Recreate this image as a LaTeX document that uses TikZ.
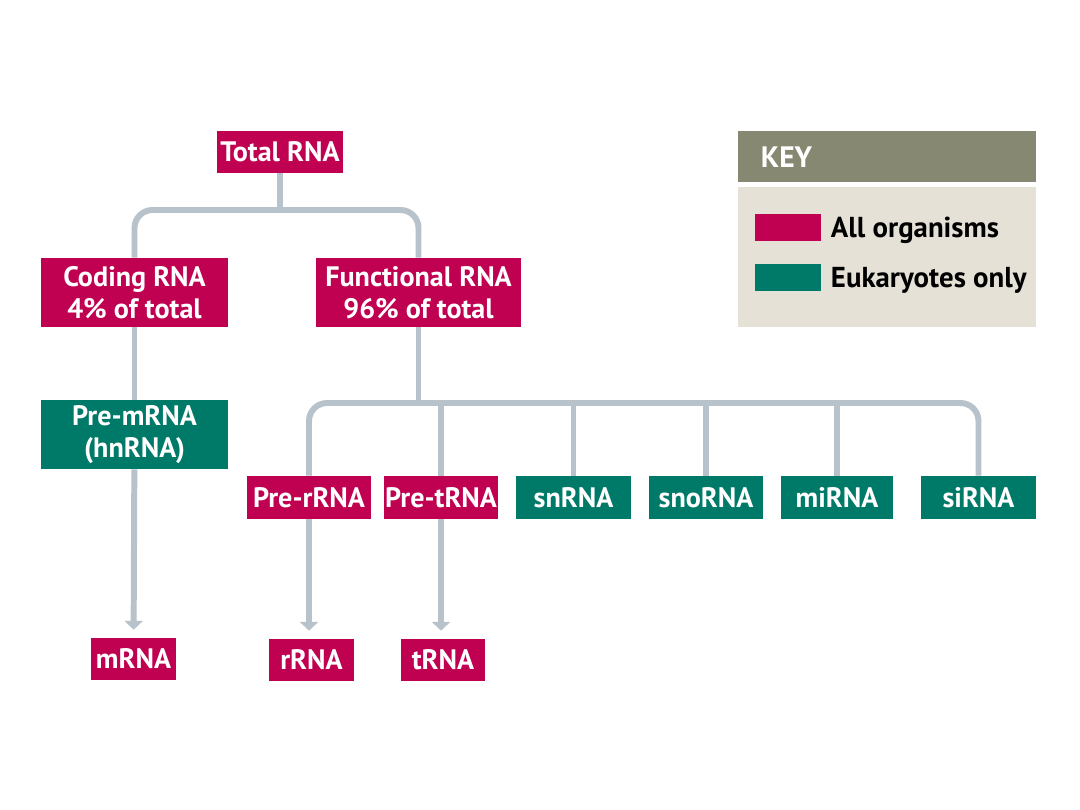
\documentclass[tikz,border=0pt]{standalone}
\usepackage{fontspec}
\setsansfont{PT Sans}
\usetikzlibrary{arrows.meta}
\definecolor{allorg}{RGB}{192,0,80}
\definecolor{eukonly}{RGB}{0,122,104}
\definecolor{linkgray}{RGB}{183,194,202}
\definecolor{keyhead}{RGB}{135,136,113}
\definecolor{keybody}{RGB}{229,225,214}

\begin{document}
\begin{tikzpicture}[x=0.025cm, y=-0.025cm,
  rna/.style={inner sep=0pt, text=white, align=center,
    font=\sffamily\bfseries\fontsize{20}{23}\selectfont},
  pink/.style={rna, fill=allorg},
  green/.style={rna, fill=eukonly},
  link/.style={draw=linkgray, line width=4.25pt},
  arr/.style={link, -{Triangle[width=0.45cm,length=0.22cm]}, shorten >=0.2cm}]
\useasboundingbox (0,0) rectangle (1080,810);
% tree
\node[pink, minimum width=3.15cm, minimum height=1.05cm] (total) at (280,152) {Total RNA};
\node[pink, minimum width=4.675cm, minimum height=1.725cm] (coding) at (134.5,292.5) {Coding RNA\\4\% of total};
\node[pink, minimum width=5.125cm, minimum height=1.725cm] (functional) at (418.5,292.5) {Functional RNA\\96\% of total};
\node[green, minimum width=4.675cm, minimum height=1.725cm] (premrna) at (134.5,434.5) {Pre-mRNA\\(hnRNA)};
\node[pink, minimum width=3.1cm, minimum height=1.075cm] (prerrna) at (309,497.5) {Pre-rRNA};
\node[pink, minimum width=2.85cm, minimum height=1.075cm] (pretrna) at (441,497.5) {Pre-tRNA};
\node[green, minimum width=2.875cm, minimum height=1.075cm] (snrna) at (573.5,497.5) {snRNA};
\node[green, minimum width=2.85cm, minimum height=1.075cm] (snorna) at (706,497.5) {snoRNA};
\node[green, minimum width=2.8cm, minimum height=1.075cm] (mirna) at (837,497.5) {miRNA};
\node[green, minimum width=2.875cm, minimum height=1.075cm] (sirna) at (978.5,497.5) {siRNA};
\node[pink, minimum width=2.125cm, minimum height=1.05cm] (mrna) at (133.5,659) {mRNA};
\node[pink, minimum width=2.125cm, minimum height=1.05cm] (rrna) at (311.5,660) {rRNA};
\node[pink, minimum width=2.1cm, minimum height=1.05cm] (trna) at (443,660) {tRNA};
\coordinate (split1) at (280,210);
\coordinate (split2) at (418.5,403);
\draw[link] (total) -- (split1);
\draw[link, rounded corners=0.45cm] (coding.north) |- (split1) -| (functional.north);
\draw[link] (coding) -- (premrna);
\draw[link] (functional) -- (split2);
\draw[link, rounded corners=0.45cm] (prerrna.north) |- (split2) -| (sirna.north);
\foreach \n in {pretrna,snrna,snorna,mirna}
  \draw[link] (\n.north) -- (\n.north |- split2);
\draw[arr] (premrna) -- (mrna);
\draw[arr] (prerrna) -- (prerrna |- rrna.north);
\draw[arr] (pretrna) -- (pretrna |- trna.north);
% key
\node[fill=keyhead, minimum width=7.45cm, minimum height=1.275cm, inner sep=0pt] (keyhead) at (887,156.5) {};
\node[anchor=west, text=white, font=\sffamily\bfseries\fontsize{21}{24}\selectfont] (keytitle) at (756,157) {KEY};
\node[fill=keybody, minimum width=7.45cm, minimum height=3.5cm, inner sep=0pt] (keybody) at (887,257) {};
\node[fill=allorg, minimum width=1.65cm, minimum height=0.675cm, inner sep=0pt] (keypink) at (788,227.5) {};
\node[fill=eukonly, minimum width=1.65cm, minimum height=0.675cm, inner sep=0pt] (keygreen) at (788,277.5) {};
\node[anchor=west, font=\sffamily\bfseries\fontsize{20.5}{24}\selectfont] (keyall) at (826,230) {All organisms};
\node[anchor=west, font=\sffamily\bfseries\fontsize{20.5}{24}\selectfont] (keyeuk) at (826,280) {Eukaryotes only};
\end{tikzpicture}
\end{document}
